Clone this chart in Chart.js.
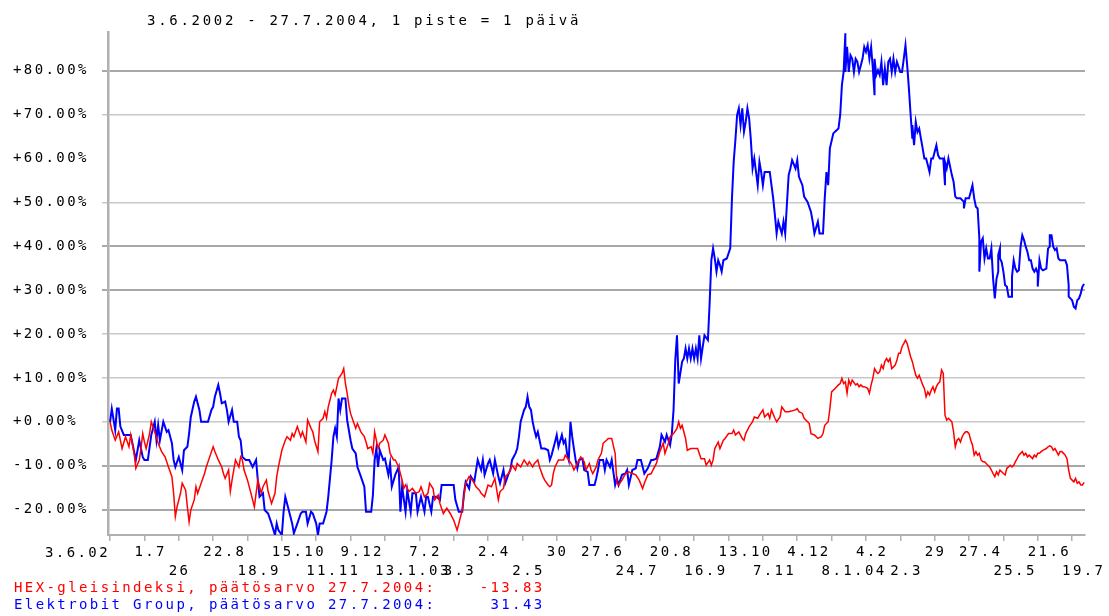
<!DOCTYPE html>
<html>
<head>
<meta charset="utf-8">
<script src="https://cdn.jsdelivr.net/npm/chart.js@4/dist/chart.umd.min.js"></script>
<style>
  body { margin: 0; background: #fff; }
  #wrap { position: relative; width: 1109px; height: 616px; }
  #wrap canvas { position: absolute; left: 0; top: 0; }
  .txt {
    position: absolute;
    font-family: "DejaVu Sans Mono", "Liberation Mono", monospace;
    font-size: 14px;
    letter-spacing: 2.4px;
    white-space: pre;
    line-height: 17px;
  }
</style>
</head>
<body>
<div id="wrap">
  <canvas id="chart" width="1109" height="616"></canvas>
  <div class="txt" id="title" style="left:147px; top:12px; letter-spacing:2.7px;"></div>
  <div class="txt" id="firstLabel" style="right:999px; top:544px;"></div>
  <div class="txt" id="legend" style="left:14px; top:579px;"></div>
</div>
<script>
// Kurssikehitys 3.6.2002 - 27.7.2004, muutos % alusta, x = kaupankäyntipäivä

const chartTitle = "3.6.2002 - 27.7.2004, 1 piste = 1 päivä";
const seriesNames = ["HEX-gleisindeksi", "Elektrobit Group"];
const closeValues = ["-13.83", "31.43"];
const closeDate = "27.7.2004";

// x-akselin merkinnät, 20 päivän välein
const xTickLabels = ["3.6.02", "1.7", "26", "22.8", "18.9", "15.10", "11.11", "9.12", "13.1.03", "7.2",
  "3.3", "2.4", "2.5", "30", "27.6", "24.7", "20.8", "16.9", "13.10", "7.11",
  "4.12", "8.1.04", "4.2", "2.3", "29", "27.4", "25.5", "21.6", "19.7"];
const xTickRows = [1, 1, 2, 1, 2, 1, 2, 1, 2, 1, 2, 1, 2, 1, 1, 2, 1, 2, 1, 2, 1, 2, 1, 2, 1, 1, 2, 1, 2];
const xTickStep = 20;

const yTickValues = [-20, -10, 0, 10, 20, 30, 40, 50, 60, 70, 80];

// [päivä, muutos %]
const hexPoints = [
  [0,0],[1,-1.9],[3,-4.2],[5,-2.3],[7,-6.1],[9,-3.4],[11,-5.7],[12,-3.0],[14,-7.2],[15,-10.6],[17,-8.7],[18,-6.1],[19,-2.7],[20,-4.6],[21,-6.1],[23,-2.7],[24,0],[26,-2.3],[28,-4.9],[30,-6.8],[32,-8.0],[34,-10.3],[36,-12.5],[37,-16.3],[38,-21.6],[39,-19.4],[41,-16.3],[42,-14.0],[44,-15.6],[45,-19.4],[46,-22.8],[47,-20.1],[49,-17.8],[50,-14.8],[51,-16.3],[53,-14.0],[55,-11.8],[56,-10.3],[58,-8.0],[60,-5.7],[61,-6.8],[63,-8.7],[65,-10.3],[66,-11.8],[67,-12.9],[69,-11.0],[70,-15.9],[71,-13.3],[72,-11.0],[73,-8.7],[75,-10.3],[76,-8.0],[77,-8.7],[78,-11.0],[80,-13.3],[82,-16.3],[84,-19.4],[85,-16.3],[86,-13.3],[88,-16.3],[89,-14.8],[91,-13.3],[92,-15.9],[94,-18.6],[96,-16.3],[97,-12.5],[98,-10.3],[100,-6.5],[102,-4.2],[103,-3.4],[105,-4.2],[106,-2.7],[107,-3.4],[109,-1.1],
  [111,-3.4],[112,-2.3],[114,-4.6],[115,0.4],[117,-1.5],[118,-2.3],[119,-4.2],[121,-6.8],[122,0],[124,0.8],[125,2.3],[126,0.8],[127,3.4],[129,6.5],[130,7.2],[131,6.1],[132,8.0],[133,9.9],[135,11.0],[136,12.1],[137,8.7],[138,6.5],[139,3.8],[140,1.9],[142,-0.4],[143,-1.5],[144,-0.4],[146,-2.3],[148,-3.4],[149,-4.6],[150,-6.1],[152,-5.7],[153,-7.2],[154,-2.3],[156,-6.1],[157,-4.9],[159,-4.2],[160,-3.0],[162,-4.9],[163,-7.2],[165,-8.7],[166,-8.7],[168,-10.3],[170,-13.3],[171,-15.2],[172,-14.4],[174,-15.9],[176,-15.2],[178,-16.3],[180,-15.9],[181,-14.8],[183,-17.1],[185,-16.3],[186,-14.0],[188,-15.2],[189,-17.8],[191,-16.7],[192,-18.6],[194,-20.9],[196,-19.7],[198,-20.9],[200,-22.4],[202,-24.7],[203,-23.2],[205,-20.1],[207,-14.0],[209,-12.5],[211,-13.3],[213,-14.8],[215,-15.6],[216,-16.3],[218,-17.1],[220,-14.4],
  [222,-14.8],[224,-12.9],[226,-17.8],[227,-15.9],[229,-15.2],[230,-12.5],[232,-11.8],[234,-9.9],[236,-11.0],[237,-9.5],[239,-10.3],[241,-8.7],[243,-9.9],[244,-9.1],[246,-10.3],[247,-9.5],[249,-8.7],[250,-10.3],[252,-12.5],[253,-13.3],[255,-14.4],[256,-14.8],[257,-14.4],[258,-11.8],[259,-10.3],[261,-8.7],[264,-8.7],[265,-7.6],[267,-8.7],[269,-9.9],[270,-11.0],[271,-10.3],[273,-8.7],[274,-8.0],[276,-9.1],[277,-11.0],[279,-9.5],[280,-11.0],[281,-11.8],[283,-10.3],[284,-8.7],[286,-7.2],[287,-4.9],[289,-4.2],[290,-3.8],[292,-3.8],[294,-7.2],[295,-14.0],[296,-14.4],[298,-13.3],[300,-11.8],[302,-11.4],[304,-11.8],[306,-12.1],[308,-13.3],[310,-15.2],[311,-14.0],[313,-12.1],[315,-11.8],[316,-11.0],[318,-9.5],[320,-6.8],[322,-4.9],[323,-7.2],[325,-4.9],[326,-3.4],[328,-2.7],[330,-1.5],[331,0],
  [332,-1.5],[333,-0.8],[335,-3.8],[336,-6.5],[338,-6.1],[342,-6.1],[344,-8.4],[346,-8.4],[347,-9.9],[349,-8.7],[350,-9.9],[351,-8.7],[352,-6.1],[354,-4.6],[355,-6.1],[357,-4.2],[358,-3.8],[360,-2.7],[362,-2.7],[363,-1.9],[364,-3.0],[366,-2.3],[368,-3.8],[369,-4.2],[370,-2.7],[372,-1.1],[374,0],[375,1.1],[377,0.8],[378,1.5],[380,2.7],[381,1.1],[383,1.9],[384,0.8],[385,2.7],[387,0.8],[388,0],[390,1.1],[391,3.4],[393,2.3],[395,2.3],[399,2.7],[400,3.0],[401,2.3],[403,1.9],[404,0.8],[406,0],[407,-0.4],[408,-2.7],[410,-3.0],[412,-3.8],[414,-3.4],[415,-2.7],[416,-0.8],[418,0],[419,3.0],[420,6.8],[422,7.6],
  [424,8.4],[425,8.7],[426,9.9],[427,8.7],[428,9.1],[429,6.5],[430,9.5],[431,8.4],[432,9.5],[434,8.4],[435,8.7],[436,8.0],[437,8.4],[438,8.0],[439,8.0],[441,7.6],[442,6.5],[443,8.4],[444,9.9],[445,12.1],[446,11.4],[447,11.0],[448,11.4],[449,12.9],[450,12.1],[451,13.7],[452,14.4],[453,13.7],[454,14.4],[455,12.1],[456,12.5],[457,12.9],[458,14.0],[459,15.6],[460,15.6],[461,17.1],[462,17.8],[463,18.6],[464,17.8],[465,16.3],[466,14.8],[467,13.7],[468,12.1],[469,10.6],[470,9.9],[471,10.6],[472,9.5],[473,8.4],[474,7.6],[475,5.7],[476,6.8],[477,6.1],[478,7.2],[479,8.0],[480,6.8],[481,8.0],[482,8.7],[483,9.1],[484,11.8],[485,11.0],[486,1.5],[487,0.4],[488,0.8],[489,0.4],[490,0],[491,-2.3],[492,-5.7],[493,-4.2],[494,-3.8],[495,-4.6],[496,-3.4],[497,-2.7],[498,-2.3],[499,-2.3],[500,-2.7],[501,-4.2],[502,-5.3],[503,-7.6],[504,-6.8],[505,-7.6],[506,-7.2],[507,-8.7],[508,-9.1],[509,-9.1],[510,-9.5],[511,-9.9],[512,-10.3],[513,-11.0],[514,-11.8],[515,-12.5],[516,-11.4],[517,-12.1],[518,-11.0],[519,-11.4],[520,-11.8],[521,-12.1],
  [522,-10.6],[523,-10.3],[524,-9.9],[525,-10.3],[526,-9.9],[527,-9.1],[528,-8.4],[529,-7.6],[530,-7.2],[531,-6.8],[532,-7.6],[533,-7.2],[534,-8.0],[535,-7.6],[536,-8.0],[537,-8.4],[538,-7.6],[539,-8.0],[540,-7.2],[541,-7.2],[542,-6.8],[543,-6.5],[544,-6.3],[545,-6.1],[546,-5.7],[547,-5.5],[548,-5.7],[549,-6.5],[550,-6.1],[551,-6.8],[552,-7.6],[553,-6.8],[554,-6.8],[555,-7.2],[556,-7.6],[557,-8.4],[558,-11.0],[559,-12.9],[560,-13.3],[561,-13.7],[562,-12.9],[563,-14.0],[564,-13.7],[565,-14.4],[566,-14.4],[567,-13.8]
];

const ebgPoints = [
  [0,0],[1,3.0],[3,-1.9],[4,3.0],[5,3.0],[6,-1.1],[8,-3.0],[10,-3.0],[12,-3.0],[13,-4.9],[15,-8.7],[16,-6.5],[17,-4.2],[19,-8.0],[20,-8.7],[22,-8.7],[24,-3.0],[26,0],[27,-4.2],[28,-0.8],[29,-4.2],[31,0],[33,-2.3],[34,-1.9],[36,-4.9],[37,-8.7],[38,-10.3],[40,-8.0],[42,-11.0],[43,-6.5],[45,-5.7],[46,-2.7],[47,1.1],[49,4.6],[50,5.7],[52,2.7],[53,0],[55,0],[57,0],[59,2.7],[60,3.4],[61,5.7],[63,8.4],[64,6.5],[65,4.2],[67,4.6],[68,2.7],[69,0],[71,2.7],[72,0],[74,0],[75,-3.4],[76,-4.2],[77,-8.0],[79,-8.7],[81,-8.7],[83,-10.3],[85,-8.7],[86,-13.3],[87,-17.1],[89,-16.3],[90,-20.1],[92,-20.9],[94,-23.2],[96,-25.8],[97,-23.2],[98,-24.7],[100,-25.8],[101,-20.5],[102,-17.1],[104,-20.1],[106,-23.2],[107,-25.4],[109,-23.2],
  [111,-20.9],[112,-20.5],[114,-20.5],[115,-23.2],[117,-20.5],[118,-20.9],[120,-23.2],[121,-25.8],[122,-23.2],[124,-23.2],[126,-20.5],[127,-17.1],[129,-8.7],[130,-3.4],[131,-1.5],[132,-3.4],[133,5.3],[134,2.7],[135,5.3],[137,5.3],[138,0.4],[140,-4.2],[141,-6.1],[143,-7.2],[144,-10.3],[146,-12.5],[148,-14.8],[149,-20.5],[152,-20.5],[153,-16.7],[154,-8.7],[155,-6.1],[156,-10.3],[157,-6.5],[159,-8.7],[160,-8.4],[162,-12.1],[163,-9.5],[164,-14.8],[166,-12.1],[168,-10.3],[169,-20.5],[170,-14.8],[172,-20.5],[173,-15.6],[175,-20.5],[176,-16.3],[178,-16.3],[179,-20.5],[181,-17.1],[183,-20.5],[184,-17.1],[185,-17.1],[187,-20.5],[188,-17.1],[190,-17.1],[192,-17.8],[193,-14.4],[200,-14.4],[201,-17.8],[203,-20.5],[205,-20.5],[206,-16.3],[207,-13.7],[209,-15.2],[210,-12.5],[212,-13.7],[214,-8.7],[216,-11.0],[217,-8.7],[218,-12.1],[220,-9.5],
  [221,-8.7],[223,-11.8],[224,-8.7],[226,-12.5],[227,-14.0],[229,-11.0],[230,-14.0],[232,-11.8],[233,-11.0],[234,-8.7],[236,-7.2],[237,-6.1],[238,-3.4],[239,0],[241,2.7],[242,3.4],[243,5.7],[244,3.4],[245,2.7],[246,0],[247,-1.9],[248,-3.4],[249,-2.3],[250,-4.2],[251,-6.1],[253,-6.1],[255,-6.5],[256,-8.7],[257,-7.6],[259,-4.6],[260,-3.0],[261,-5.7],[263,-3.0],[264,-4.9],[265,-4.2],[266,-7.2],[267,-8.7],[268,0],[269,-3.4],[270,-6.1],[271,-8.7],[272,-10.6],[273,-8.7],[275,-8.4],[276,-11.0],[278,-11.4],[279,-14.4],[282,-14.4],[283,-12.9],[284,-11.0],[285,-8.7],[287,-8.7],[288,-11.0],[289,-8.7],[291,-10.3],[292,-8.7],[294,-14.4],[295,-12.9],[296,-14.4],[298,-12.1],[300,-11.8],[301,-11.0],[302,-14.4],[304,-11.0],[306,-10.6],[307,-8.7],[309,-8.7],[311,-11.8],[313,-10.6],[315,-8.7],[316,-8.7],[318,-8.4],[320,-5.7],[321,-3.0],[323,-4.6],[324,-3.0],[326,-5.3],[327,-2.7],[328,2.7],[329,14.0],[330,19.7],
  [331,8.7],[333,13.7],[334,14.4],[335,16.7],[336,14.4],[337,16.7],[338,14.4],[339,16.7],[340,14.4],[341,16.7],[342,14.4],[343,19.7],[344,14.4],[345,17.1],[346,19.7],[348,18.6],[349,27.0],[350,36.8],[351,39.5],[352,37.2],[353,34.2],[354,36.8],[355,35.7],[356,34.2],[357,36.8],[359,37.2],[361,39.5],[362,50.9],[363,59.2],[364,64.2],[365,69.9],[366,71.4],[367,67.6],[368,71.4],[369,66.1],[370,68.3],[371,71.4],[372,69.1],[373,64.2],[374,57.7],[375,60.0],[377,53.9],[378,59.2],[379,56.9],[380,53.9],[381,56.9],[384,56.9],[385,53.9],[386,50.9],[387,47.1],[388,42.9],[389,45.6],[391,42.9],[392,45.6],[393,42.9],[394,49.7],[395,56.2],[396,57.7],[397,59.6],[399,57.7],[400,59.6],[401,55.8],[403,53.9],[404,51.3],[406,50.1],[408,47.8],[409,45.6],[410,42.9],[412,45.6],[413,42.9],[415,42.9],[416,50.9],[417,56.9],[418,53.9],[419,62.3],[421,65.7],[422,66.1],
  [424,66.8],[425,69.9],[426,76.7],[427,79.7],[428,88.5],[428,79.7],[429,85.4],[430,79.7],[431,83.5],[432,82.7],[433,79.7],[434,82.7],[435,82.0],[436,79.7],[438,82.7],[439,85.4],[440,84.3],[441,85.8],[442,82.7],[443,85.4],[444,80.5],[445,74.4],[445,82.7],[446,79.0],[447,80.1],[448,79.0],[449,82.0],[450,76.7],[451,80.5],[452,76.7],[453,82.0],[454,82.7],[455,79.7],[456,82.7],[457,79.7],[458,82.0],[460,79.7],[461,79.7],[462,82.7],[463,85.8],[464,81.2],[465,75.9],[466,69.9],[467,64.5],[467,67.6],[468,63.0],[469,68.3],[470,66.0],[471,66.8],[472,64.5],[473,62.3],[474,60.0],[475,60.0],[476,58.5],[477,56.9],[478,60.0],[479,60.0],[480,61.5],[481,63.0],[482,60.7],[483,60.0],[485,60.0],[486,53.9],[486,59.2],[487,57.7],[488,60.0],[490,56.2],[491,54.7],[492,51.3],[493,50.9],[495,50.9],[497,50.1],[497,48.6],[498,50.9],[500,50.9],[501,52.4],[502,53.9],[503,50.9],[504,49.0],[505,48.6],[506,41.8],[506,34.2],[507,41.0],[508,41.8],[509,37.2],[510,39.5],[511,37.2],[512,37.2],[513,39.5],[514,32.6],[515,28.1],[516,32.6],[517,34.2],[517,38.0],[518,39.5],[518,37.2],[519,36.4],[520,34.2],[521,31.1],
  [522,30.8],[523,28.5],[525,28.5],[525,33.0],[526,36.8],[527,34.9],[528,34.2],[529,34.5],[530,39.9],[531,42.5],[532,41.4],[533,39.9],[534,38.7],[535,36.8],[536,36.8],[537,34.9],[538,34.2],[539,34.9],[540,33.8],[540,30.8],[541,36.8],[542,34.9],[543,34.5],[545,34.9],[546,39.5],[547,39.9],[547,42.5],[548,42.5],[549,39.9],[550,39.1],[551,39.5],[552,37.2],[553,36.8],[556,36.8],[557,35.7],[558,31.1],[558,28.5],[559,28.1],[560,27.7],[561,26.2],[562,25.8],[563,27.7],[564,28.1],[565,29.2],[566,30.8],[567,31.4]
];

const FONT = "'DejaVu Sans Mono', 'Liberation Mono', monospace";
const thickLines = [80, 40, 30, -10, -20];

function toXY(points) {
  return points.map(p => ({ x: p[0], y: p[1] }));
}

// canvasin tekstiin sama harva kirjainväli kuin kuvassa
const letterSpacingPlugin = {
  id: "letterSpacing",
  beforeDraw(chart) {
    chart.ctx.letterSpacing = "2.4px";
  }
};

function initTexts() {
  document.getElementById("title").textContent = chartTitle;
  document.getElementById("firstLabel").textContent = xTickLabels[0];
  const colors = ["#ff0000", "#0000ff"];
  const legend = document.getElementById("legend");
  legend.innerHTML = "";
  seriesNames.forEach((name, i) => {
    const d = document.createElement("div");
    d.textContent = name + ", päätösarvo " + closeDate + ":" + closeValues[i].padStart(10, " ");
    d.style.color = colors[i];
    legend.appendChild(d);
  });
}

function initChart() {
  const ctx = document.getElementById("chart").getContext("2d");
  new Chart(ctx, {
    type: "line",
    data: {
      datasets: [
        {
          label: seriesNames[0],
          data: toXY(hexPoints),
          borderColor: "#ff0000",
          borderWidth: 1.5,
          pointRadius: 0,
          tension: 0
        },
        {
          label: seriesNames[1],
          data: toXY(ebgPoints),
          borderColor: "#0000ff",
          borderWidth: 2,
          pointRadius: 0,
          tension: 0
        }
      ]
    },
    options: {
      responsive: false,
      animation: false,
      events: [],
      layout: { padding: { left: 13, right: 24, top: 32, bottom: 0 } },
      plugins: {
        legend: { display: false },
        title: { display: false },
        tooltip: { enabled: false }
      },
      scales: {
        x: {
          type: "linear",
          min: -1.2,
          max: 567.5,
          afterBuildTicks: (scale) => {
            scale.ticks = xTickLabels.map((_, i) => ({ value: i * xTickStep }));
          },
          afterFit: (scale) => {
            scale.height = 81;
            scale.paddingLeft = 0;
            scale.paddingRight = 0;
          },
          grid: {
            drawOnChartArea: false,
            drawTicks: true,
            tickLength: 6,
            color: "#b0b0b0",
            lineWidth: 1.5
          },
          border: { color: "#b0b0b0", width: 2 },
          ticks: {
            autoSkip: false,
            maxRotation: 0,
            minRotation: 0,
            align: "start",
            labelOffset: -10,
            padding: 2,
            color: "#000",
            font: { family: FONT, size: 14, lineHeight: "19px" },
            callback: (value) => {
              const i = Math.round(value / xTickStep);
              if (i === 0) return "";
              const lab = xTickLabels[i];
              return xTickRows[i] === 1 ? [lab, ""] : ["", lab];
            }
          }
        },
        y: {
          min: -25.8,
          max: 88.8,
          afterBuildTicks: (scale) => {
            scale.ticks = yTickValues.map(v => ({ value: v }));
          },
          afterFit: (scale) => {
            scale.width = 95;
            scale.paddingTop = 0;
            scale.paddingBottom = 0;
          },
          grid: {
            drawTicks: true,
            tickLength: 6,
            color: (c) => {
              const v = c.tick ? c.tick.value : null;
              if (v === 60) return "rgba(0,0,0,0)";
              return thickLines.includes(v) ? "#a8a8a8" : "#c8c8c8";
            },
            lineWidth: (c) => {
              const v = c.tick ? c.tick.value : null;
              return thickLines.includes(v) ? 2 : 1.5;
            }
          },
          border: { color: "#b0b0b0", width: 2.5 },
          ticks: {
            crossAlign: "far",
            color: "#000",
            font: { family: FONT, size: 14 },
            callback: (v) => (v >= 0 ? "+" : "") + v.toFixed(2) + "%"
          }
        }
      }
    },
    plugins: [letterSpacingPlugin]
  });
}

initTexts();
initChart();
</script>
</body>
</html>
